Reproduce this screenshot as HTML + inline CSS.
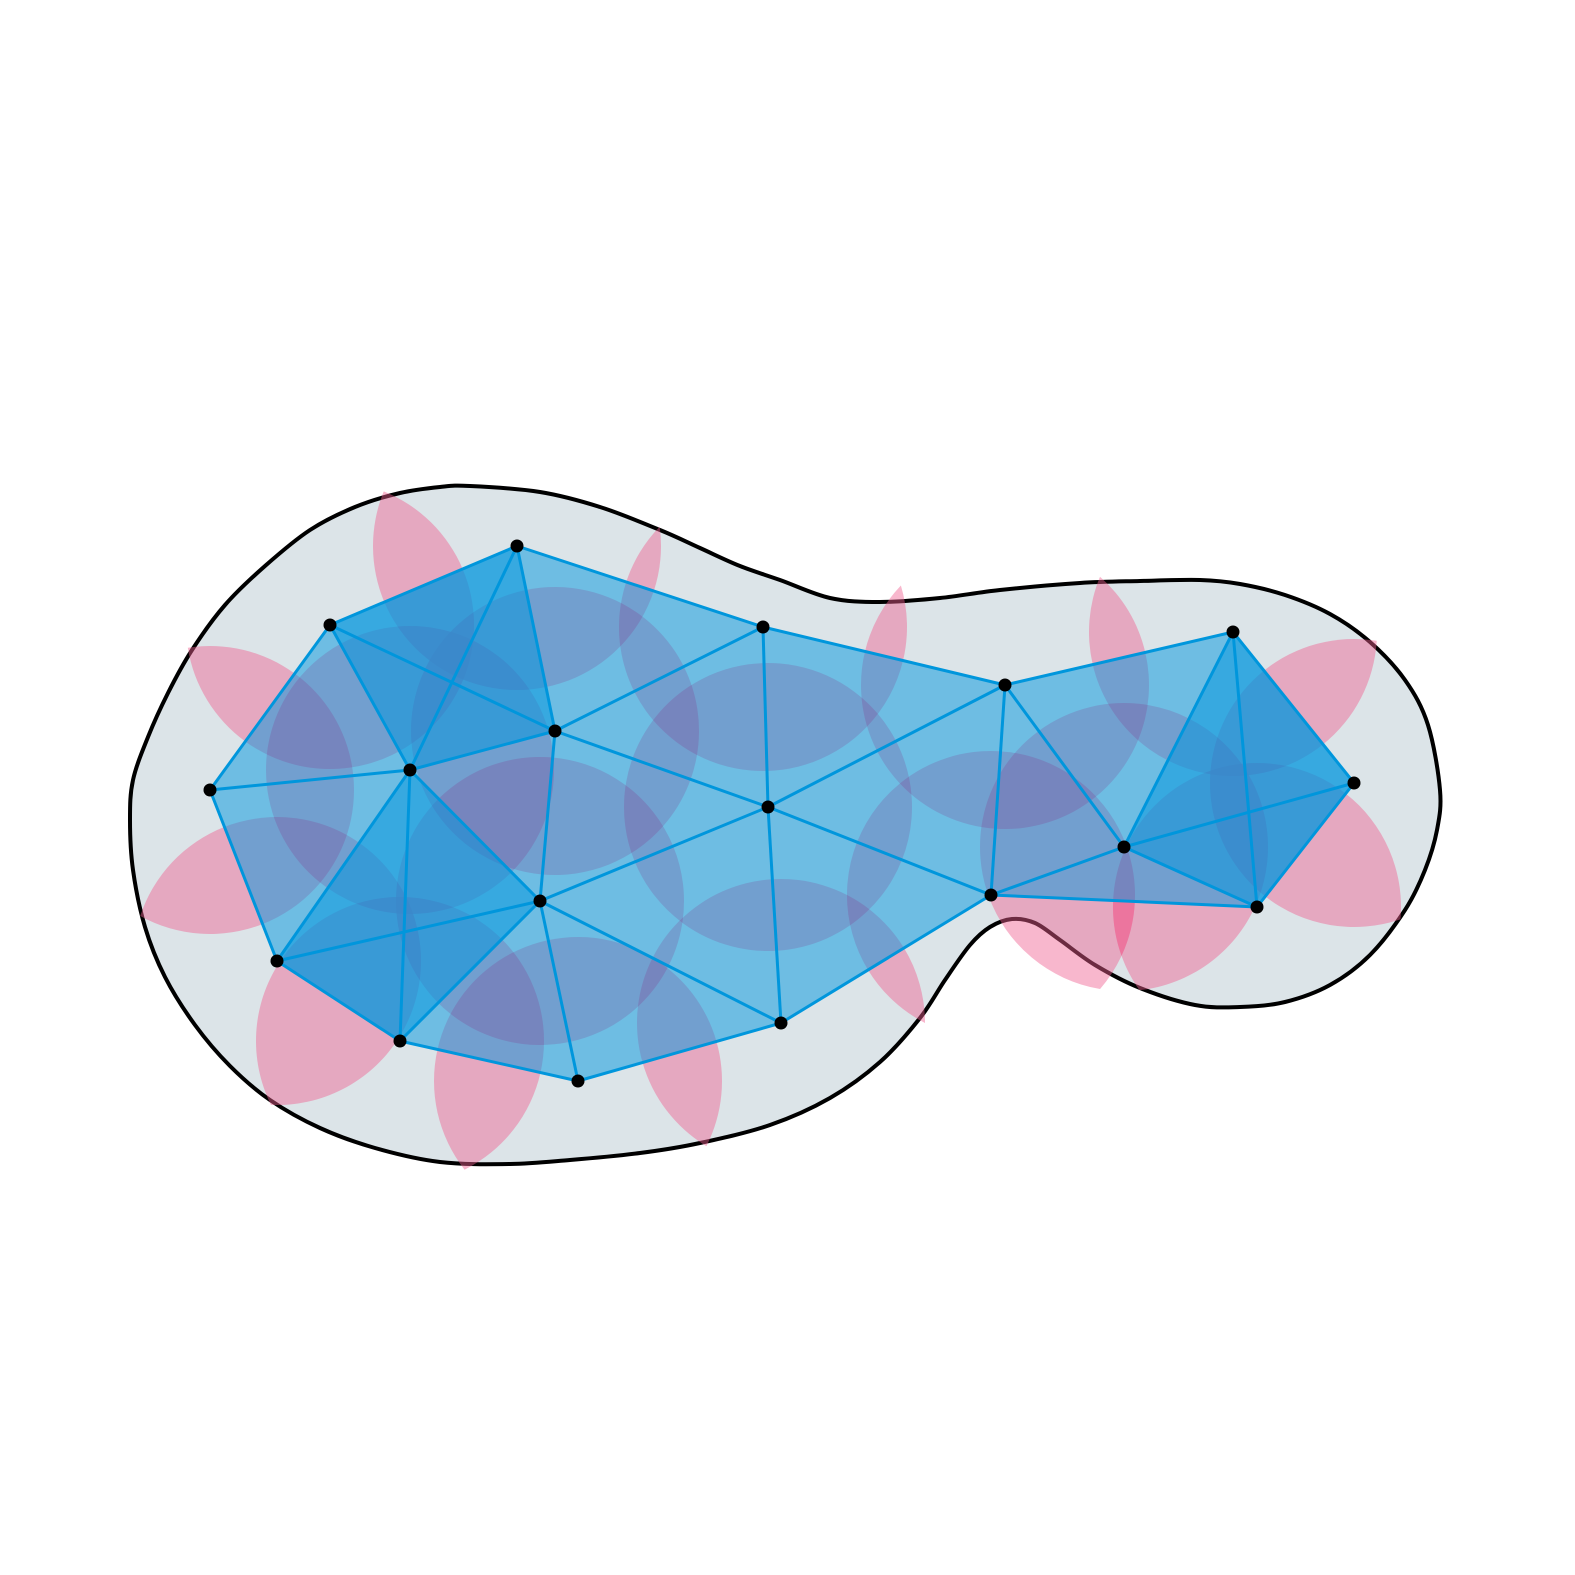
<!DOCTYPE html>
<html><head><meta charset="utf-8"><style>html,body{margin:0;padding:0;background:#fff}svg{display:block}</style></head>
<body>
<svg id="chart" width="1575" height="1575" viewBox="0 0 1575 1575" xmlns="http://www.w3.org/2000/svg">
<path id="blob" fill="#dce4e8" stroke="#000" stroke-width="4" stroke-linejoin="round"/>
<g id="lenses"></g>
<g id="tris"></g>
<g id="edges"></g>
<g id="pts"></g>
</svg>
<script>
const ptX = [517,330,763,555,1005,1233,410,210,1354,768,1124,540,991,1257,277,781,400,578];
const ptY = [546,625,627,731,685,632,770,790,783,807,847,901,895,907,961,1023,1041,1081];
const radius = 144;
const triangles = [[0,1,3],[0,1,6],[1,6,3],[0,3,6],[1,7,6],[7,6,14],[6,14,11],[6,11,16],[14,11,16],[6,16,14],[6,3,11],[3,2,0],[3,2,9],[3,9,11],[2,9,4],[9,4,12],[9,11,15],[9,15,12],[11,15,17],[11,17,16],[4,12,10],[4,10,5],[5,10,13],[5,8,13],[5,10,8],[10,8,13],[12,10,13]];
const blobX = [470,540,600,660,700,740,780,830,880,940,1000,1080,1140,1200,1240,1285,1330,1370,1405,1428,1440,1437,1425,1405,1370,1330,1285,1240,1195,1140,1095,1060,1035,1012,990,970,945,920,880,830,770,700,640,570,510,440,375,320,270,230,195,165,145,133,130,133,148,168,192,225,265,310,355,400,440];
const blobY = [486,492,507,530,548,566,580,598,602,598,590,583,581,580,584,595,614,642,680,725,790,830,870,910,955,985,1002,1007,1005,988,965,940,923,919,927,945,980,1018,1062,1098,1125,1143,1153,1160,1164,1162,1148,1128,1100,1066,1025,977,927,870,820,780,737,693,650,605,566,530,507,493,487];
const NS='http://www.w3.org/2000/svg';
function mk(t,a){const e=document.createElementNS(NS,t);for(const k in a)e.setAttribute(k,a[k]);return e;}
(function(){const n=blobX.length;let d='M'+blobX[0]+','+blobY[0];
for(let i=0;i<n;i++){const p0=(i-1+n)%n,p1=i,p2=(i+1)%n,p3=(i+2)%n;
const c1x=blobX[p1]+(blobX[p2]-blobX[p0])/6,c1y=blobY[p1]+(blobY[p2]-blobY[p0])/6;
const c2x=blobX[p2]-(blobX[p3]-blobX[p1])/6,c2y=blobY[p2]-(blobY[p3]-blobY[p1])/6;
d+=` C${c1x.toFixed(1)},${c1y.toFixed(1)} ${c2x.toFixed(1)},${c2y.toFixed(1)} ${blobX[p2]},${blobY[p2]}`;}
document.getElementById('blob').setAttribute('d',d+'Z');})();
// unique edges
const edgeList=[];const seen={};
triangles.forEach(t=>{for(let k=0;k<3;k++){const a=t[k],b=t[(k+1)%3];const key=Math.min(a,b)+'-'+Math.max(a,b);if(!seen[key]){seen[key]=1;edgeList.push([a,b]);}}});
const lg=document.getElementById('lenses');
edgeList.forEach(([a,b])=>{const ax=ptX[a],ay=ptY[a],bx=ptX[b],by=ptY[b];
const dx=bx-ax,dy=by-ay,d=Math.hypot(dx,dy);if(d>=2*radius)return;
const h=Math.sqrt(radius*radius-d*d/4),mx=(ax+bx)/2,my=(ay+by)/2;
const ux=-dy/d,uy=dx/d;const p1x=mx+ux*h,p1y=my+uy*h,p2x=mx-ux*h,p2y=my-uy*h;
const p=mk('path',{d:`M${p1x},${p1y} A${radius},${radius} 0 0 1 ${p2x},${p2y} A${radius},${radius} 0 0 1 ${p1x},${p1y}Z`,fill:'#f06090','fill-opacity':0.45});


lg.appendChild(p);});
const tg=document.getElementById('tris');
triangles.forEach(t=>{const pts=t.map(i=>ptX[i]+','+ptY[i]).join(' ');
const p=mk('polygon',{points:pts,fill:'#0096de','fill-opacity':0.5});


tg.appendChild(p);});
const eg=document.getElementById('edges');
edgeList.forEach(([a,b])=>{
const l=mk('line',{x1:ptX[a],y1:ptY[a],x2:ptX[b],y2:ptY[b],stroke:'#0096dc','stroke-width':3});


eg.appendChild(l);});
const pg=document.getElementById('pts');
ptX.forEach((x,i)=>{const c=mk('circle',{cx:x,cy:ptY[i],r:6.5,fill:'#000'});


pg.appendChild(c);});
</script>
</body></html>
